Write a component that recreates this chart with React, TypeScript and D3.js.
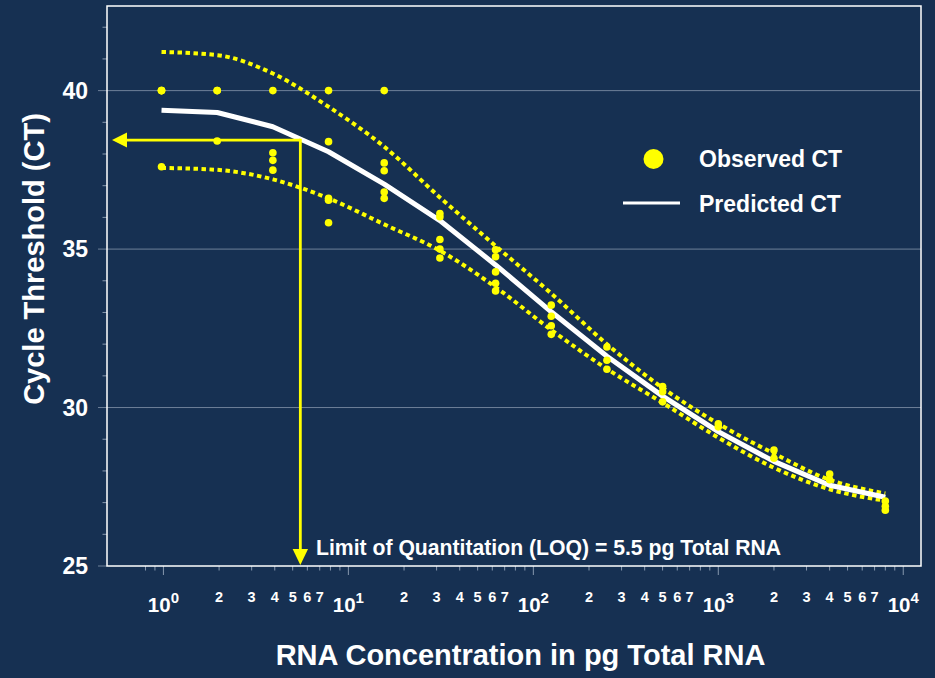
import React from "react";
import * as d3 from "d3";

// Serial two-fold dilution series (pg total RNA)
const concentrations = [
  0.9765625, 1.953125, 3.90625, 7.8125, 15.625, 31.25, 62.5, 125, 250, 500, 1000, 2000, 4000, 8000,
];

// Fitted curve and its confidence band at each dilution
const predictedCT = [39.38, 39.31, 38.86, 38.07, 37.05, 35.9, 34.5, 33.02, 31.62, 30.36, 29.24, 28.3, 27.55, 27.17];
const upperBound = [41.22, 41.12, 40.54, 39.49, 38.23, 36.63, 35.1, 33.6, 32.0, 30.62, 29.49, 28.55, 27.72, 27.29];
const lowerBound = [37.56, 37.5, 37.2, 36.6, 35.78, 34.95, 33.8, 32.45, 31.22, 30.15, 29.05, 28.1, 27.42, 27.06];

// Replicate measurements at each dilution
const observedCT = [
  [40, 40, 40, 37.6],
  [40, 40, 38.41],
  [40, 38.04, 37.8, 37.49],
  [40, 38.39, 36.6, 36.54, 35.83],
  [40, 37.72, 37.47, 36.8, 36.6],
  [36.12, 36.02, 35.3, 35.0, 34.72],
  [34.98, 34.76, 34.28, 33.92, 33.68],
  [33.23, 32.88, 32.58, 32.31],
  [31.91, 31.49, 31.21],
  [30.66, 30.5, 30.18],
  [29.49, 29.39],
  [28.66, 28.4],
  [27.9, 27.72],
  [27.05, 26.88, 26.76],
];

// Limit of quantitation marker
const loqConcentration = 5.5;
const loqCT = 38.44;

const yMajorTicks = [25, 30, 35, 40];
const yGridTicks = [30, 35, 40];
const yMinorTicks = [26, 27, 28, 29, 31, 32, 33, 34, 36, 37, 38, 39, 41, 42];
const decades = [0, 1, 2, 3, 4];
const minorMultipliers = [2, 3, 4, 5, 6, 7, 8, 9];
const labelledMultipliers = [2, 3, 4, 5, 6, 7];

const W = 935;
const H = 678;
const left = 107;
const right = 921;
const top = 6;
const bottom = 566;

const BG = "#163052";
const YELLOW = "#FFFF00";
const GRID = "#6f8199";
const TICK = "#8798ae";
const FONT = "'Liberation Sans', Arial, Helvetica, sans-serif";

export default function App() {
  const x = d3.scaleLog().domain([Math.pow(10, -0.305), Math.pow(10, 4.096)]).range([left, right]);
  const y = d3.scaleLinear().domain([25, 42.67]).range([bottom, top]);

  const curve = (vals: number[], smooth: boolean) =>
    d3
      .line<number>()
      .x((_, i) => x(concentrations[i]))
      .y((v) => y(v))
      .curve(smooth ? d3.curveMonotoneX : d3.curveLinear)(vals) as string;

  const minorTicks: number[] = [0.8, 0.9];
  decades.slice(0, 4).forEach((d) =>
    minorMultipliers.forEach((m) => minorTicks.push(m * Math.pow(10, d)))
  );
  const minorLabels: number[] = [];
  decades.slice(0, 4).forEach((d) =>
    labelledMultipliers.forEach((m) => minorLabels.push(m * Math.pow(10, d)))
  );

  const points: { c: number; v: number }[] = [];
  observedCT.forEach((vals, i) => vals.forEach((v) => points.push({ c: concentrations[i], v })));

  const lx = x(loqConcentration);
  const ly = y(loqCT);
  const hTip = left + 5;
  const vTip = bottom - 1;

  return (
    <svg
      width={W}
      height={H}
      style={{ position: "absolute", left: 0, top: 0, display: "block" }}
      fontFamily={FONT}
      fontWeight="bold"
    >
      <rect x={0} y={0} width={W} height={H} fill={BG} />

      {/* horizontal gridlines */}
      {yGridTicks.map((t) => (
        <line key={"g" + t} x1={98} x2={right} y1={y(t)} y2={y(t)} stroke={GRID} strokeWidth={1} />
      ))}
      <line x1={98} x2={left} y1={y(25)} y2={y(25)} stroke={GRID} strokeWidth={1} />
      {yMinorTicks.map((t) => (
        <line key={"ym" + t} x1={102.5} x2={left} y1={y(t)} y2={y(t)} stroke={TICK} strokeWidth={1} />
      ))}

      {/* x ticks */}
      {minorTicks.map((t, i) => (
        <line key={"xm" + i} x1={x(t)} x2={x(t)} y1={bottom} y2={bottom + 4.5} stroke={TICK} strokeWidth={1} />
      ))}
      {decades.map((d) => (
        <line
          key={"xM" + d}
          x1={x(Math.pow(10, d))}
          x2={x(Math.pow(10, d))}
          y1={bottom}
          y2={bottom + 9}
          stroke={TICK}
          strokeWidth={1}
        />
      ))}

      {/* confidence band */}
      <path d={curve(upperBound, true)} fill="none" stroke={YELLOW} strokeWidth={4} strokeDasharray="4.5 3.5" />
      <path d={curve(lowerBound, true)} fill="none" stroke={YELLOW} strokeWidth={4} strokeDasharray="4.5 3.5" />

      {/* predicted curve */}
      <path d={curve(predictedCT, false)} fill="none" stroke="#ffffff" strokeWidth={5} strokeLinejoin="round" />

      {/* observed replicates */}
      {points.map((p, i) => (
        <circle key={"p" + i} cx={x(p.c)} cy={y(p.v)} r={3.8} fill={YELLOW} />
      ))}

      {/* LOQ arrows */}
      <line x1={lx} x2={hTip + 14} y1={ly} y2={ly} stroke={YELLOW} strokeWidth={2.8} />
      <path d={`M${hTip},${ly} L${hTip + 15},${ly - 7.5} L${hTip + 15},${ly + 7.5} Z`} fill={YELLOW} />
      <line x1={lx} x2={lx} y1={ly - 1.4} y2={vTip - 14} stroke={YELLOW} strokeWidth={2.8} />
      <path d={`M${lx},${vTip} L${lx - 7.7},${vTip - 16} L${lx + 7.7},${vTip - 16} Z`} fill={YELLOW} />
      <text x={316} y={555.3} fill="#ffffff" fontSize={21.2}>
        Limit of Quantitation (LOQ) = 5.5 pg Total RNA
      </text>

      {/* plot frame */}
      <rect x={left} y={top} width={right - left} height={bottom - top} fill="none" stroke="#ffffff" strokeWidth={1.5} />

      {/* y tick labels */}
      {yMajorTicks.map((t) => (
        <text key={"yl" + t} x={88} y={y(t) + 8.2} textAnchor="end" fill="#ffffff" fontSize={23}>
          {t}
        </text>
      ))}

      {/* x tick labels */}
      {decades.map((d) => (
        <text key={"xl" + d} x={x(Math.pow(10, d))} y={611.7} textAnchor="middle" fill="#ffffff" fontSize={20.5}>
          <tspan>10</tspan>
          <tspan dy={-8.5} fontSize={15}>
            {d}
          </tspan>
        </text>
      ))}
      {minorLabels.map((t, i) => (
        <text key={"xml" + i} x={x(t)} y={602} textAnchor="middle" fill="#ffffff" fontSize={14.5}>
          {d3.format("d")(t / Math.pow(10, Math.floor(Math.log10(t) + 1e-9)))}
        </text>
      ))}

      {/* axis titles */}
      <text
        transform={`translate(44,259) rotate(-90)`}
        textAnchor="middle"
        fill="#ffffff"
        fontSize={29}
      >
        Cycle Threshold (CT)
      </text>
      <text x={520.5} y={665} textAnchor="middle" fill="#ffffff" fontSize={29}>
        RNA Concentration in pg Total RNA
      </text>

      {/* legend */}
      <circle cx={653.5} cy={159} r={10} fill={YELLOW} />
      <text x={699} y={166.7} fill="#ffffff" fontSize={23}>
        Observed CT
      </text>
      <line x1={623} x2={680} y1={203} y2={203} stroke="#ffffff" strokeWidth={3} />
      <text x={699} y={211.7} fill="#ffffff" fontSize={23}>
        Predicted CT
      </text>
    </svg>
  );
}
